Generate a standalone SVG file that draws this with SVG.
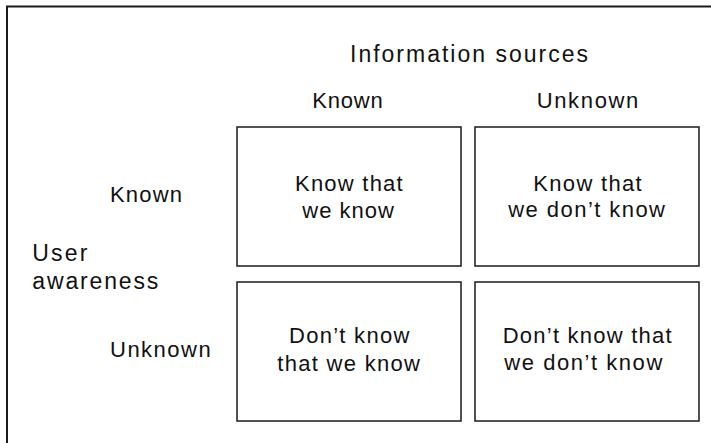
<svg xmlns="http://www.w3.org/2000/svg" width="711" height="443" viewBox="0 0 711 443">
  <style>
    .frame { fill: none; stroke: #1a1a1a; stroke-width: 2; }
    .cell { fill: #ffffff; stroke: #1a1a1a; stroke-width: 1.5; }
    text { font-family: "Liberation Sans", Arial, sans-serif; fill: #111111; font-size: 22px; }
    .head { font-size: 23px; }
  </style>
  <rect width="711" height="443" fill="#ffffff"/>
  <!-- open frame: top and left edges only -->
  <path class="frame" d="M7,443 V6.5 H711"/>

  <!-- axis titles and column/row labels -->
  <g id="axis-labels">
    <text class="head" x="350" y="61.5" textLength="238" lengthAdjust="spacing">Information sources</text>
    <text x="312.3" y="108.3" textLength="70.4" lengthAdjust="spacing">Known</text>
    <text x="536.7" y="108.3" textLength="101.6" lengthAdjust="spacing">Unknown</text>
    <text x="110" y="201.7" textLength="72" lengthAdjust="spacing">Known</text>
    <text x="110" y="356.7" textLength="100.7" lengthAdjust="spacing">Unknown</text>
    <text class="head" x="32.3" y="260.7" textLength="55" lengthAdjust="spacing">User</text>
    <text class="head" x="32.3" y="289" textLength="126" lengthAdjust="spacing">awareness</text>
  </g>

  <g id="known-known">
    <rect class="cell" x="237" y="127" width="224" height="139"/>
    <text x="295" y="191" textLength="107.7" lengthAdjust="spacing">Know that</text>
    <text x="302.3" y="217.7" textLength="91.7" lengthAdjust="spacing">we know</text>
  </g>

  <g id="known-unknown">
    <rect class="cell" x="475" y="127" width="224" height="139"/>
    <text x="533.3" y="190.5" textLength="108.4" lengthAdjust="spacing">Know that</text>
    <text x="508.3" y="217" textLength="156.7" lengthAdjust="spacing">we don’t know</text>
  </g>

  <g id="unknown-known">
    <rect class="cell" x="237" y="282" width="224" height="139"/>
    <text x="289" y="343.3" textLength="120.3" lengthAdjust="spacing">Don’t know</text>
    <text x="277.3" y="370.7" textLength="142.7" lengthAdjust="spacing">that we know</text>
  </g>

  <g id="unknown-unknown">
    <rect class="cell" x="475" y="282" width="224" height="139"/>
    <text x="502.7" y="343.3" textLength="169" lengthAdjust="spacing">Don’t know that</text>
    <text x="504.3" y="370.2" textLength="158" lengthAdjust="spacing">we don’t know</text>
  </g>
</svg>
